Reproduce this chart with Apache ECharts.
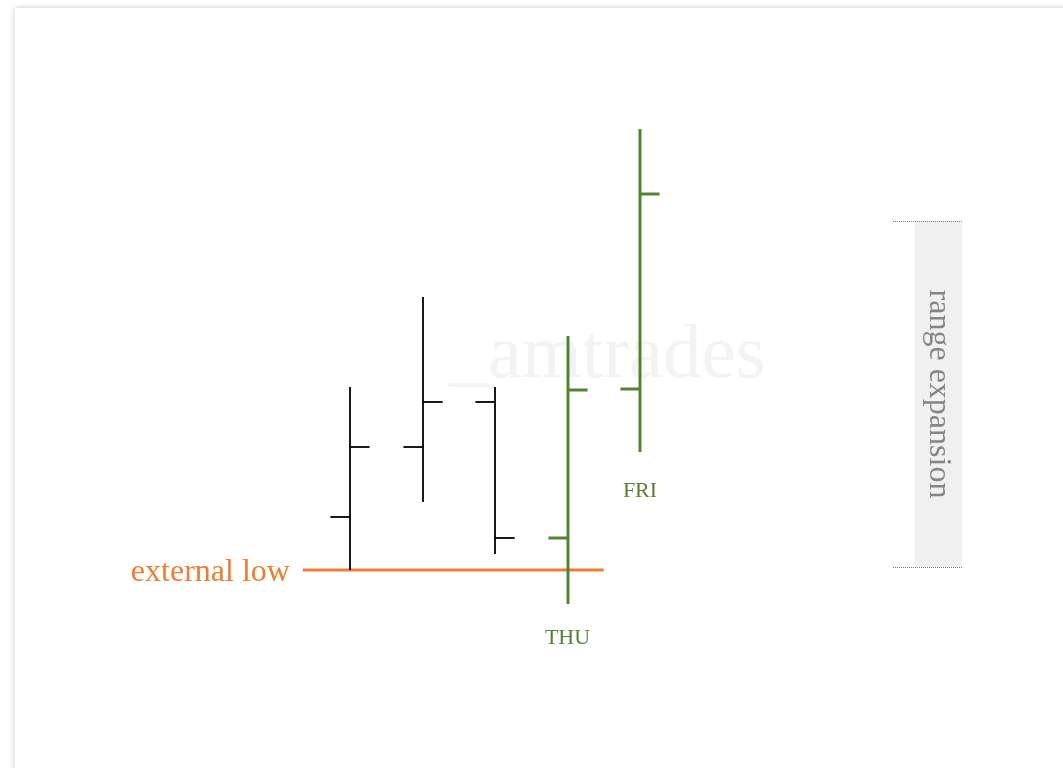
<!DOCTYPE html>
<html>
<head>
<meta charset="utf-8">
<script src="https://cdn.jsdelivr.net/npm/echarts@6/dist/echarts.min.js"></script>
<style>
html,body{margin:0;padding:0;background:#fff;width:1063px;height:768px;overflow:hidden;}
#card{position:absolute;left:15px;top:8px;width:1100px;height:800px;background:#fff;box-shadow:0 0 6px rgba(0,0,0,0.22);}
#chart{position:absolute;left:0;top:0;width:1063px;height:768px;}
</style>
</head>
<body>
<div id="card"></div>
<div id="chart"></div>
<script>
// OHLC bars: index, open, high, low, close
const barIndex = [0, 1, 2, 3, 4];
const opens  = [108.7, 115.7, 120.2, 106.6, 121.5];
const highs  = [121.7, 130.7, 121.7, 126.8, 147.5];
const lows   = [103.4, 110.2, 105.0, 100.0, 115.2];
const closes = [115.7, 120.2, 106.6, 121.4, 141.0];
const highlighted = [false, false, false, true, true];

const externalLow = 103.4;
const externalLowSpan = [-0.65, 3.5];
const externalLowLabel = 'external low';

const dayLabels = ['THU', 'FRI'];
const dayLabelIndex = [3, 4];
const dayLabelPrice = [96.6, 111.3];

const rangeBox = { x0: 7.79, x1: 8.44, lineStart: 7.49, top: 138.3, bottom: 103.7, text: 'range expansion' };
const watermark = { text: '_amtrades', x: 3.55, y: 124.7 };

const FONT = '"Liberation Serif", "DejaVu Serif", serif';
const GREEN = '#548235', ORANGE = '#ED7D31', BLACK = '#000000';

const ohlcData = barIndex.map((x, i) => [x, opens[i], highs[i], lows[i], closes[i], highlighted[i] ? 1 : 0]);

const chart = echarts.init(document.getElementById('chart'));
chart.setOption({
  animation: false,
  backgroundColor: 'transparent',
  grid: { left: 132.5, width: 870, top: 104, height: 550 },
  xAxis: { type: 'value', min: -3, max: 9, show: false },
  yAxis: { type: 'value', min: 95, max: 150, show: false },
  series: [
    {
      // watermark
      type: 'custom', silent: true, z: 0,
      data: [[watermark.x, watermark.y]],
      renderItem: function (params, api) {
        const p = api.coord([api.value(0), api.value(1)]);
        return { type: 'text', style: { x: p[0], y: p[1], text: watermark.text, fill: '#f3f3f3', font: '77px ' + FONT, textAlign: 'center', textVerticalAlign: 'middle' } };
      }
    },
    {
      // range expansion box
      type: 'custom', silent: true, z: 1,
      data: [[rangeBox.x0, rangeBox.top, rangeBox.x1, rangeBox.bottom, rangeBox.lineStart]],
      renderItem: function (params, api) {
        const tl = api.coord([api.value(0), api.value(1)]);
        const br = api.coord([api.value(2), api.value(3)]);
        const ls = api.coord([api.value(4), api.value(1)]);
        const lb = api.coord([api.value(4), api.value(3)]);
        return { type: 'group', children: [
          { type: 'rect', shape: { x: tl[0], y: tl[1], width: br[0] - tl[0], height: br[1] - tl[1] }, style: { fill: '#f0f0f0' } },
          { type: 'line', shape: { x1: ls[0], y1: Math.round(tl[1]) + 0.5, x2: br[0], y2: Math.round(tl[1]) + 0.5 }, style: { stroke: '#777', lineWidth: 1, lineDash: [1, 1] } },
          { type: 'line', shape: { x1: lb[0], y1: Math.round(br[1]) + 0.5, x2: br[0], y2: Math.round(br[1]) + 0.5 }, style: { stroke: '#777', lineWidth: 1, lineDash: [1, 1] } },
          { type: 'text', x: (tl[0] + br[0]) / 2, y: (tl[1] + br[1]) / 2, rotation: -Math.PI / 2,
            style: { x: 0, y: 0, text: rangeBox.text, fill: '#858585', font: '32px ' + FONT, textAlign: 'center', textVerticalAlign: 'middle' } }
        ] };
      }
    },
    {
      // external low line
      type: 'custom', silent: true, z: 2,
      data: [[externalLowSpan[0], externalLow, externalLowSpan[1]]],
      renderItem: function (params, api) {
        const a = api.coord([api.value(0), api.value(1)]);
        const b = api.coord([api.value(2), api.value(1)]);
        return { type: 'group', children: [
          { type: 'line', shape: { x1: a[0], y1: a[1], x2: b[0], y2: b[1] }, style: { stroke: ORANGE, lineWidth: 3 } },
          { type: 'text', style: { x: a[0] - 13, y: a[1] + 3, text: externalLowLabel, fill: ORANGE, font: '32px ' + FONT, textAlign: 'right', textVerticalAlign: 'middle' } }
        ] };
      }
    },
    {
      // OHLC bars
      type: 'custom', silent: true, z: 3,
      data: ohlcData,
      renderItem: function (params, api) {
        const x = api.value(0);
        const o = api.coord([x, api.value(1)]);
        const h = api.coord([x, api.value(2)]);
        const l = api.coord([x, api.value(3)]);
        const c = api.coord([x, api.value(4)]);
        const hl = api.value(5) === 1;
        const color = hl ? GREEN : BLACK;
        const lw = hl ? 3 : 1.8;
        const tick = api.size([0.27, 0])[0];
        const cx = Math.round(h[0]);
        return { type: 'group', children: [
          { type: 'line', shape: { x1: cx, y1: h[1], x2: cx, y2: l[1] }, style: { stroke: color, lineWidth: lw } },
          { type: 'line', shape: { x1: cx - tick, y1: o[1], x2: cx, y2: o[1] }, style: { stroke: color, lineWidth: lw } },
          { type: 'line', shape: { x1: cx, y1: c[1], x2: cx + tick, y2: c[1] }, style: { stroke: color, lineWidth: lw } }
        ] };
      }
    },
    {
      // day labels
      type: 'custom', silent: true, z: 4,
      data: dayLabels.map((t, i) => [dayLabelIndex[i], dayLabelPrice[i]]),
      renderItem: function (params, api) {
        const p = api.coord([api.value(0), api.value(1)]);
        return { type: 'text', style: { x: p[0], y: p[1], text: dayLabels[params.dataIndex], fill: GREEN, font: '22px ' + FONT, textAlign: 'center', textVerticalAlign: 'middle' } };
      }
    }
  ]
});
</script>
</body>
</html>
